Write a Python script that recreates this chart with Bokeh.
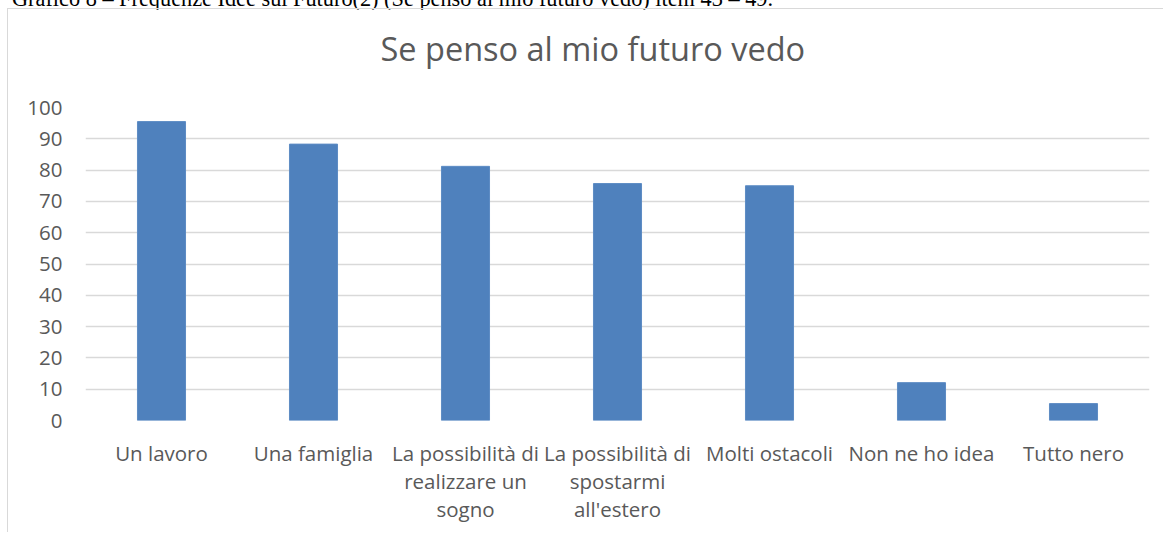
from bokeh.plotting import figure
from bokeh.models import FixedTicker, CategoricalAxis, CustomJSTickFormatter, Title, Div
from bokeh.layouts import column
from bokeh.embed import file_html
from bokeh.resources import INLINE

# ---- data ----
categories = ["Un lavoro", "Una famiglia", "La possibilità di realizzare un sogno",
              "La possibilità di spostarmi all'estero", "Molti ostacoli",
              "Non ne ho idea", "Tutto nero"]
label_line1 = ["Un lavoro", "Una famiglia", "La possibilità di", "La possibilità di",
               "Molti ostacoli", "Non ne ho idea", "Tutto nero"]
label_line2 = ["", "", "realizzare un", "spostarmi", "", "", ""]
label_line3 = ["", "", "sogno", "all'estero", "", "", ""]
values = [95.5, 88.3, 81.2, 75.7, 75.0, 12.1, 5.4]
y_ticks = [0, 10, 20, 30, 40, 50, 60, 70, 80, 90, 100]
chart_title = "Se penso al mio futuro vedo"
caption = "Grafico 8 – Frequenze Idee sul Futuro(2) (Se penso al mio futuro vedo) item 43 – 49."

GREY = "#595959"
GRID = "#d9d9d9"
BAR = "#4F81BD"
FONT = "Open Sans"

p = figure(x_range=categories, y_range=(0, 100), width=1156, height=524,
           output_backend="svg", toolbar_location=None, title=None,
           min_border_left=77, min_border_right=15, min_border_top=98, min_border_bottom=113,
           outline_line_color=None, background_fill_color="white", border_fill_color="white",
           margin=(0, 0, 0, 8),
           styles={"box-shadow": "-1px -1px 0 0 #d9d9d9"})

p.vbar(x=categories, top=values, width=0.316, fill_color=BAR, line_color="#5D8CC4", line_width=1)

# title (spacer first = closest to the frame)
spacer = Title(text=" ", text_font_size="1px", standoff=29)
main_title = Title(text=chart_title, align="left", offset=295, standoff=10,
                   text_font=FONT, text_font_size="32.5px", text_font_style="normal",
                   text_color=GREY)
p.add_layout(spacer, "above")
p.add_layout(main_title, "above")

p.xgrid.grid_line_color = None
p.ygrid.grid_line_color = GRID
p.ygrid.grid_line_width = 1.3
p.yaxis.ticker = FixedTicker(ticks=y_ticks)

extra2 = CategoricalAxis()
extra3 = CategoricalAxis()
p.add_layout(extra2, "below")
p.add_layout(extra3, "below")

x_axes = [p.xaxis[0], extra2, extra3]
for ax, lines in zip(x_axes, [label_line1, label_line2, label_line3]):
    ax.formatter = CustomJSTickFormatter(
        args=dict(cats=categories, lines=lines),
        code="const i = cats.indexOf(tick); return i < 0 ? '' : lines[i];")

for ax in x_axes + [p.yaxis[0]]:
    ax.axis_line_color = None
    ax.major_tick_line_color = None
    ax.minor_tick_line_color = None
    ax.major_tick_out = 0
    ax.major_tick_in = 0
    ax.major_label_text_font = FONT
    ax.major_label_text_font_size = "20.5px"
    ax.major_label_text_color = GREY

p.yaxis.major_label_standoff = 23
p.xaxis[0].major_label_standoff = 18
extra2.major_label_standoff = -3
extra3.major_label_standoff = -3

head = Div(text=("<div style=\"font-family:'Liberation Serif'; font-size:22.3px; "
                 "line-height:21px; height:21px; white-space:nowrap; color:#000;\">" + caption + "</div>"),
           width=1150, height=21, margin=(-12, 0, 0, 12))

layout = column(head, p)
open("out.html", "w").write(file_html(layout, INLINE))
